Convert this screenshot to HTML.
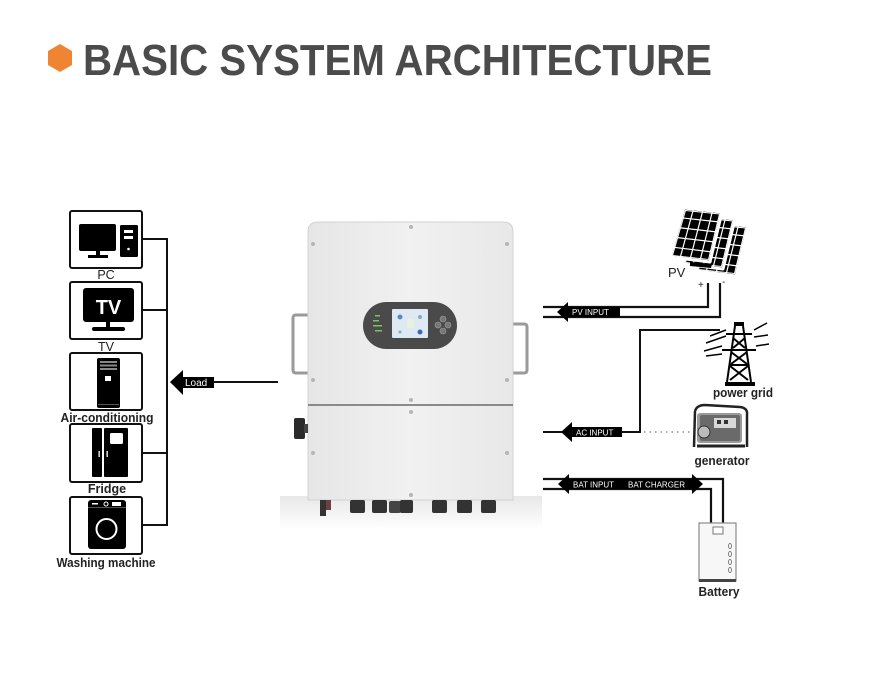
<!DOCTYPE html>
<html>
<head>
<meta charset="utf-8">
<style>
html,body{margin:0;padding:0;background:#fff;}
svg{display:block;}
text{font-family:"Liberation Sans",Arial,sans-serif;}
</style>
</head>
<body>
<svg width="869" height="699" viewBox="0 0 869 699" xmlns="http://www.w3.org/2000/svg">
<defs>
  <linearGradient id="body" x1="0" y1="0" x2="1" y2="0">
    <stop offset="0" stop-color="#e6e6e6"/>
    <stop offset="0.5" stop-color="#f1f1f1"/>
    <stop offset="1" stop-color="#e8e8e8"/>
  </linearGradient>
  <linearGradient id="shadow" x1="0" y1="0" x2="0" y2="1">
    <stop offset="0" stop-color="#d8d8d8"/>
    <stop offset="1" stop-color="#ffffff"/>
  </linearGradient>
  <g id="panel">
    <polygon points="684,208 722,212 710,262 670,257" fill="#000" stroke="#fff" stroke-width="3" stroke-linejoin="round"/>
    <polygon points="685.5,210.5 719.5,214 708.5,259.5 672.5,255.5" fill="none" stroke="#fff" stroke-width="1"/>
    <g stroke="#fff" stroke-width="1.2">
      <line x1="693.5" y1="209" x2="680" y2="258.2"/>
      <line x1="703" y1="210" x2="690" y2="259.5"/>
      <line x1="712.5" y1="211" x2="700" y2="260.7"/>
      <line x1="681.2" y1="217.8" x2="719.6" y2="222"/>
      <line x1="678.4" y1="227.6" x2="717.2" y2="232"/>
      <line x1="675.6" y1="237.4" x2="714.8" y2="242"/>
      <line x1="672.8" y1="247.2" x2="712.4" y2="252"/>
    </g>
  </g>
</defs>
<rect width="869" height="699" fill="#fff"/>

<!-- Title -->
<polygon points="60,44 72,51 72,65 60,72 48,65 48,51" fill="#ef8433"/>
<text x="83" y="75" font-size="44" font-weight="bold" fill="#4b4b4b" textLength="629" lengthAdjust="spacingAndGlyphs">BASIC SYSTEM ARCHITECTURE</text>

<!-- Left load boxes -->
<g stroke="#111" stroke-width="2" fill="#fff">
  <rect x="70" y="211" width="72" height="57" rx="2"/>
  <rect x="70" y="282" width="72" height="57" rx="2"/>
  <rect x="70" y="353" width="72" height="57" rx="2"/>
  <rect x="70" y="424" width="72" height="58" rx="2"/>
  <rect x="70" y="497" width="72" height="57" rx="2"/>
</g>
<!-- bus -->
<g stroke="#111" stroke-width="2" fill="none">
  <polyline points="142,239 167,239 167,525 142,525"/>
  <line x1="142" y1="310" x2="167" y2="310"/>
  <line x1="142" y1="453" x2="167" y2="453"/>
</g>

<!-- PC icon -->
<rect x="79" y="224" width="37" height="27" rx="2" fill="#000"/>
<rect x="96" y="250" width="4" height="6" fill="#000"/>
<rect x="88" y="255" width="20" height="3" fill="#000"/>
<rect x="120" y="225" width="18" height="32" rx="1.5" fill="#000"/>
<rect x="124" y="230" width="9" height="3" fill="#fff"/>
<rect x="124" y="236" width="9" height="3" fill="#fff"/>
<circle cx="128.5" cy="249" r="1.3" fill="#fff"/>
<text x="106" y="279" font-size="12.5" text-anchor="middle" fill="#222">PC</text>

<!-- TV icon -->
<rect x="83" y="288" width="51" height="34" rx="3" fill="#000"/>
<text x="108.5" y="314" font-size="20" font-weight="bold" text-anchor="middle" fill="#fff">TV</text>
<rect x="106" y="321" width="4" height="7" fill="#000"/>
<rect x="92" y="327" width="33" height="4" rx="2" fill="#000"/>
<text x="106" y="351" font-size="12.5" text-anchor="middle" fill="#222">TV</text>

<!-- Air conditioner icon -->
<rect x="97" y="358" width="23" height="50" rx="2" fill="#000"/>
<rect x="100" y="361" width="17" height="2" fill="#888"/>
<rect x="100" y="364.5" width="17" height="2" fill="#888"/>
<rect x="100" y="368" width="17" height="2" fill="#888"/>
<rect x="105" y="376" width="6" height="5" fill="#fff"/>
<rect x="98" y="404" width="21" height="1" fill="#555"/>
<text x="107" y="422" font-size="12.5" font-weight="bold" text-anchor="middle" fill="#222" textLength="93" lengthAdjust="spacingAndGlyphs">Air-conditioning</text>

<!-- Fridge icon -->
<rect x="92" y="428" width="10" height="49" rx="1" fill="#000"/>
<rect x="104" y="428" width="24" height="49" rx="1" fill="#000"/>
<rect x="110" y="433" width="13" height="11" rx="1.5" fill="#fff"/>
<rect x="98.5" y="451" width="1.3" height="6" fill="#fff"/>
<rect x="106.5" y="451" width="1.3" height="6" fill="#fff"/>
<text x="107" y="493" font-size="12.5" font-weight="bold" text-anchor="middle" fill="#222">Fridge</text>

<!-- Washing machine icon -->
<rect x="88" y="500" width="38" height="49" rx="3" fill="#000"/>
<rect x="88" y="507" width="38" height="1" fill="#555"/>
<rect x="92" y="503" width="6" height="1.5" fill="#fff"/>
<circle cx="106" cy="504" r="2" fill="none" stroke="#fff" stroke-width="1"/>
<rect x="112" y="502" width="9" height="4" fill="#fff"/>
<circle cx="106.5" cy="529" r="10" fill="none" stroke="#fff" stroke-width="2"/>
<text x="106" y="567" font-size="12.5" font-weight="bold" text-anchor="middle" fill="#222" textLength="99" lengthAdjust="spacingAndGlyphs">Washing machine</text>

<!-- Load arrow -->
<polygon points="170,382 183,370 183,377 214,377 214,388 183,388 183,395" fill="#000"/>
<text x="185" y="386" font-size="10" fill="#fff">Load</text>
<line x1="213" y1="382" x2="278" y2="382" stroke="#111" stroke-width="2"/>

<!-- Inverter -->
<rect x="280" y="496" width="262" height="34" fill="url(#shadow)" opacity="0.6"/>
<!-- handles -->
<path d="M308,315 L296,315 Q293,315 293,318 L293,370 Q293,373 296,373 L308,373" fill="none" stroke="#9a9a9a" stroke-width="3"/>
<path d="M513,324 L524,324 Q527,324 527,327 L527,370 Q527,373 524,373 L513,373" fill="none" stroke="#9a9a9a" stroke-width="3"/>
<path d="M308,232 Q308,222 318,222 L503,222 Q513,222 513,232 L513,500 L308,500 Z" fill="url(#body)" stroke="#d2d2d2" stroke-width="1"/>
<line x1="308" y1="405" x2="513" y2="405" stroke="#8a8a8a" stroke-width="2"/>
<!-- screws -->
<g fill="#b5b5b5">
  <circle cx="411" cy="227" r="2"/>
  <circle cx="313" cy="244" r="2"/>
  <circle cx="507" cy="244" r="2"/>
  <circle cx="313" cy="380" r="2"/>
  <circle cx="507" cy="380" r="2"/>
  <circle cx="411" cy="400" r="2"/>
  <circle cx="411" cy="412" r="2"/>
  <circle cx="313" cy="453" r="2"/>
  <circle cx="507" cy="453" r="2"/>
  <circle cx="411" cy="495" r="2"/>
</g>
<!-- display -->
<rect x="363" y="302" width="94" height="47" rx="23.5" fill="#4a4a4a"/>
<rect x="392" y="309" width="36" height="29" rx="1" fill="#dfe9f3"/>
<circle cx="400" cy="317" r="2.5" fill="#5a8ac0"/>
<circle cx="420" cy="317" r="2" fill="#8aa8c8"/>
<circle cx="400" cy="332" r="1.5" fill="#8aa8c8"/>
<circle cx="420" cy="332" r="2.5" fill="#3a6ab0"/>
<rect x="407" y="319" width="7" height="9" rx="2" fill="#e8f0e0"/>
<g fill="#7fc060">
  <rect x="375" y="315" width="5" height="1.5"/>
  <rect x="373" y="320" width="6" height="1.5"/>
  <rect x="373" y="325" width="9" height="1.5"/>
  <rect x="375" y="330" width="7" height="1.5"/>
</g>
<g fill="#777" stroke="#999" stroke-width="0.6">
  <circle cx="443" cy="319" r="3"/>
  <circle cx="438" cy="325" r="3"/>
  <circle cx="448" cy="325" r="3"/>
  <circle cx="443" cy="331" r="3"/>
</g>
<!-- knob -->
<rect x="294" y="418" width="11" height="21" rx="2" fill="#2a2a2a"/>
<rect x="304" y="424" width="4" height="9" fill="#444"/>
<!-- bottom connectors -->
<g fill="#333">
  <rect x="320" y="500" width="6" height="16"/>
  <rect x="326" y="500" width="5" height="10" fill="#6b4040"/>
  <rect x="350" y="500" width="15" height="13" rx="2"/>
  <rect x="372" y="500" width="15" height="13" rx="2"/>
  <rect x="389" y="501" width="12" height="12" rx="2" fill="#444"/>
  <rect x="400" y="500" width="13" height="13" rx="2"/>
  <rect x="432" y="500" width="15" height="13" rx="2"/>
  <rect x="457" y="500" width="15" height="13" rx="2"/>
  <rect x="481" y="500" width="15" height="13" rx="2"/>
</g>

<!-- PV panels -->
<use href="#panel" transform="translate(26,14)"/>
<use href="#panel" transform="translate(13,7)"/>
<use href="#panel"/>
<polygon points="690,262 712,264 711,268 690,266" fill="#000"/>
<text x="668" y="277" font-size="13" fill="#222">PV</text>
<text x="698" y="288" font-size="10" fill="#222">+</text>
<text x="722" y="285" font-size="10" fill="#222">-</text>

<!-- PV input lines -->
<g stroke="#111" stroke-width="2.2" fill="none">
  <polyline points="543,307 708,307 708,283"/>
  <polyline points="543,317 720,317 720,283"/>
</g>
<polygon points="557,312 568,302 568,307 620,307 620,317 568,317 568,322" fill="#000"/>
<text x="572" y="315" font-size="8" fill="#fff">PV  INPUT</text>

<!-- power grid -->
<g stroke="#111" stroke-width="2" fill="none">
  <polyline points="720,330 640,330 640,432 543,432"/>
</g>
<polygon points="561,432 572,422 572,427 622,427 622,437 572,437 572,442" fill="#000"/>
<text x="576" y="435.5" font-size="8" fill="#fff">AC  INPUT</text>
<line x1="644" y1="432" x2="693" y2="432" stroke="#777" stroke-width="1.2" stroke-dasharray="1.5,4"/>

<!-- tower -->
<g fill="#000" stroke="#000">
  <rect x="734" y="322" width="10" height="4" stroke="none"/>
  <rect x="725" y="382" width="30" height="4" stroke="none"/>
</g>
<g stroke="#000" stroke-width="2" fill="none">
  <polyline points="735,326 727,382"/>
  <polyline points="743,326 751,382"/>
  <line x1="726" y1="334" x2="752" y2="334"/>
  <line x1="722" y1="350" x2="756" y2="350"/>
  <line x1="733" y1="338" x2="745" y2="348"/>
  <line x1="745" y1="338" x2="733" y2="348"/>
  <line x1="731" y1="352" x2="747" y2="364"/>
  <line x1="747" y1="352" x2="731" y2="364"/>
  <line x1="730" y1="366" x2="748" y2="380"/>
  <line x1="748" y1="366" x2="730" y2="380"/>
  <line x1="730" y1="365" x2="748" y2="365"/>
</g>
<g stroke="#000" stroke-width="1.5">
  <line x1="710" y1="336" x2="726" y2="330"/>
  <line x1="706" y1="343" x2="726" y2="336"/>
  <line x1="704" y1="351" x2="722" y2="346"/>
  <line x1="706" y1="356" x2="722" y2="354"/>
  <line x1="754" y1="330" x2="767" y2="323"/>
  <line x1="754" y1="337" x2="768" y2="335"/>
  <line x1="756" y1="346" x2="769" y2="344"/>
</g>
<text x="743" y="397" font-size="12.5" font-weight="bold" text-anchor="middle" fill="#222" textLength="60" lengthAdjust="spacingAndGlyphs">power grid</text>

<!-- generator -->
<g>
  <rect x="697" y="413" width="45" height="30" rx="3" fill="#9a9a9a"/>
  <rect x="700" y="415" width="40" height="26" rx="2" fill="#6a6a6a"/>
  <rect x="714" y="418" width="22" height="10" fill="#d8d8d8"/>
  <rect x="717" y="420" width="4" height="4" fill="#333"/>
  <rect x="724" y="420" width="4" height="4" fill="#333"/>
  <circle cx="704" cy="432" r="6" fill="#bbb" stroke="#333"/>
  <path d="M695,411 Q697,405 705,405 L740,407 Q748,408 747,415 L747,447 M695,411 L694,447" fill="none" stroke="#222" stroke-width="2.5"/>
  <line x1="697" y1="446" x2="745" y2="446" stroke="#222" stroke-width="3"/>
</g>
<text x="722" y="465" font-size="12.5" font-weight="bold" text-anchor="middle" fill="#222" textLength="55" lengthAdjust="spacingAndGlyphs">generator</text>

<!-- battery lines -->
<g stroke="#111" stroke-width="2.2" fill="none">
  <polyline points="543,479 723,479 723,523"/>
  <polyline points="543,489 711,489 711,523"/>
</g>
<polygon points="558,484 569,474 569,479 692,479 692,474 703,484 692,494 692,489 569,489 569,494" fill="#000"/>
<text x="573" y="487.5" font-size="8" fill="#fff">BAT INPUT</text>
<text x="628" y="487.5" font-size="8" fill="#fff">BAT CHARGER</text>

<!-- battery -->
<rect x="699" y="523" width="37" height="58" fill="#f7f7f7" stroke="#8a8a8a" stroke-width="1.2"/>
<rect x="713" y="527" width="10" height="7" fill="#fff" stroke="#777" stroke-width="1"/>
<g fill="none" stroke="#777" stroke-width="0.9">
  <ellipse cx="730" cy="546" rx="1.5" ry="2.5"/>
  <ellipse cx="730" cy="554" rx="1.5" ry="2.5"/>
  <ellipse cx="730" cy="562" rx="1.5" ry="2.5"/>
  <ellipse cx="730" cy="570" rx="1.5" ry="2.5"/>
</g>
<rect x="699" y="579" width="37" height="3" fill="#444"/>
<text x="719" y="596" font-size="12.5" font-weight="bold" text-anchor="middle" fill="#222" textLength="41" lengthAdjust="spacingAndGlyphs">Battery</text>
</svg>
</body>
</html>
